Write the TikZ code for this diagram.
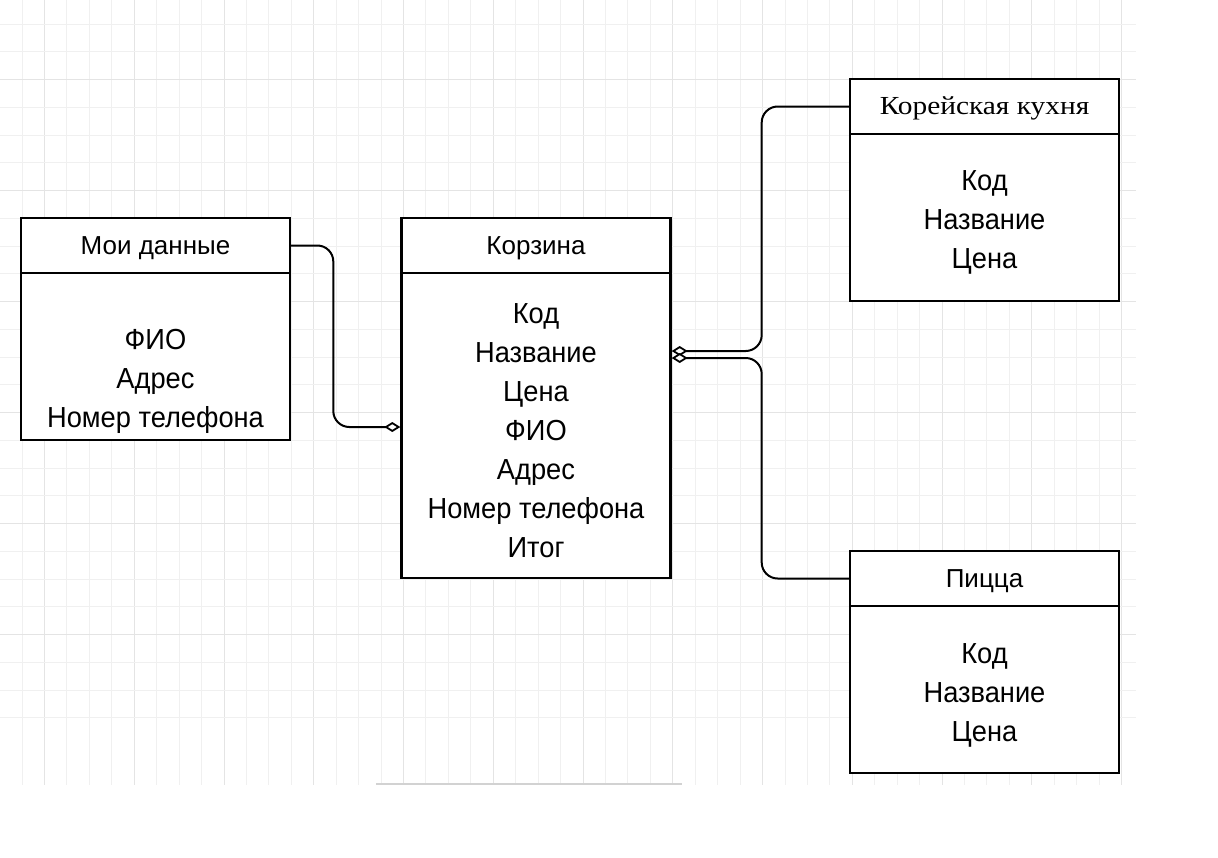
\documentclass[tikz,border=0pt]{standalone}
\usepackage{fontspec}
\setmainfont{Liberation Sans}
\newfontfamily\bodyfont{Liberation Sans}[FakeStretch=0.94]
\newfontfamily\serifhdr{Liberation Serif}[FakeStretch=1.13]
\usetikzlibrary{arrows.meta}
\definecolor{gridminor}{HTML}{F0F0F0}
\definecolor{gridmajor}{HTML}{E4E4E4}
\tikzset{
  hdrbox/.style={draw=black, line width=2.4pt, fill=white, minimum width=269pt, minimum height=55pt, inner sep=0pt},
  hdrtext/.style={inner sep=0pt, font=\fontsize{26}{30}\selectfont},
  bodybox/.style={draw=black, line width=2.4pt, fill=white, minimum width=269pt, inner sep=0pt},
  bodytext/.style={align=center, inner sep=0pt, font=\bodyfont\fontsize{29}{39}\selectfont},
  conn/.style={draw=black, line width=2pt, rounded corners=16pt},
  dia/.style={{Diamond[open, fill=white, length=16pt, width=10pt, line width=1.8pt]}-}
}
\begin{document}
\begin{tikzpicture}[x=1pt, y=-1pt]
\useasboundingbox (0,0) rectangle (1218,857);
\fill[white] (0,0) rectangle (1218,857);
% grid
\foreach \k in {0,...,50} {
  \pgfmathtruncatemacro{\m}{mod(\k,4)}
  \pgfmathsetmacro{\gx}{round(-0.88+22.44*\k)+0.5}
  \ifnum\m=2
    \draw[gridmajor, line width=1.6pt] (\gx,0) -- (\gx,785);
  \else
    \draw[gridminor, line width=1pt] (\gx,0) -- (\gx,785);
  \fi
}
\foreach \k in {0,...,25} {
  \pgfmathtruncatemacro{\m}{mod(\k,4)}
  \pgfmathsetmacro{\gy}{round(23.5+27.76*\k)+0.5}
  \ifnum\m=2
    \draw[gridmajor, line width=1.6pt] (0,\gy) -- (1136,\gy);
  \else
    \draw[gridminor, line width=1pt] (0,\gy) -- (1136,\gy);
  \fi
}
\draw[gray!35, line width=2pt] (376,784) -- (682,784);

% Мои данные
\node[hdrbox] (mdh) at (155.5,245.5) {};
\node[hdrtext] (mdht) at (155.5,248) {Мои данные};
\node[bodybox, minimum height=167pt] (mdb) at (155.5,356.5) {};
\node[bodytext] (mdt) at (155.5,381) {ФИО\\Адрес\\Номер телефона};

% Корзина
\node[hdrbox] (kzh) at (536,245.5) {};
\node[hdrtext] (kzht) at (536,248) {Корзина};
\node[bodybox, minimum height=305pt] (kzb) at (536,425.5) {};
\node[bodytext] (kzt) at (536,430.5) {Код\\Название\\Цена\\ФИО\\Адрес\\Номер телефона\\Итог};

% Корейская кухня
\node[hdrbox] (kkh) at (984.5,106.5) {};
\node[hdrtext, font=\serifhdr\fontsize{26}{30}\selectfont] (kkht) at (984.5,108) {Корейская кухня};
\node[bodybox, minimum height=167pt] (kkb) at (984.5,217.5) {};
\node[bodytext] (kkt) at (984.5,222.5) {Код\\Название\\Цена};

% Пицца
\node[hdrbox] (pzh) at (984.5,578.5) {};
\node[hdrtext] (pzht) at (984.5,581) {Пицца};
\node[bodybox, minimum height=167pt] (pzb) at (984.5,689.5) {};
\node[bodytext] (pzt) at (984.5,695) {Код\\Название\\Цена};

% connectors
\draw[conn, dia] ([yshift=-1.5pt]kzb.west) -- ++(-67,0) |- (mdh.east);
\draw[conn, dia] ([yshift=74.5pt]kzb.east) -- ++(90,0) |- (kkh.west);
\draw[conn, dia] ([yshift=67.5pt]kzb.east) -- ++(90,0) |- (pzh.west);
\end{tikzpicture}
\end{document}
